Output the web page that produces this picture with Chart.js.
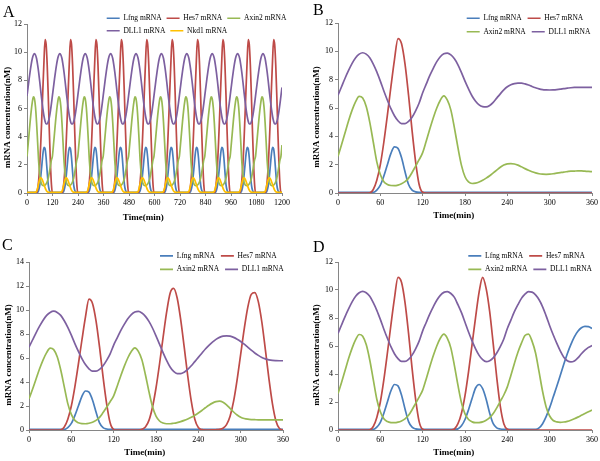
<!DOCTYPE html>
<html>
<head>
<meta charset="utf-8">
<script src="https://cdn.jsdelivr.net/npm/chart.js@4.4.1/dist/chart.umd.min.js"></script>
<style>
html,body{margin:0;padding:0;background:#fff;}
#fig{position:relative;width:600px;height:461px;overflow:hidden;background:#fff;}
.panel{position:absolute;}
.lbl{position:absolute;font-family:"Liberation Serif","Times New Roman",serif;font-size:16px;line-height:1;color:#000;}
</style>
</head>
<body>
<div id="fig">
  <div class="panel" style="left:0;top:0;"><canvas id="cA" width="300" height="230"></canvas></div>
  <div class="panel" style="left:300px;top:0;"><canvas id="cB" width="300" height="230"></canvas></div>
  <div class="panel" style="left:0;top:230px;"><canvas id="cC" width="300" height="231"></canvas></div>
  <div class="panel" style="left:300px;top:230px;"><canvas id="cD" width="300" height="231"></canvas></div>
  <div class="lbl" style="left:3px;top:3.5px;">A</div>
  <div class="lbl" style="left:313px;top:1.5px;">B</div>
  <div class="lbl" style="left:2px;top:236.5px;">C</div>
  <div class="lbl" style="left:313px;top:238.5px;">D</div>
</div>
<script>
// ---------------- DATA ----------------
const seriesLabels = ['Lfng mRNA', 'Hes7 mRNA', 'Axin2 mRNA', 'DLL1 mRNA', 'Nkd1 mRNA'];
const xTicksA = [0, 120, 240, 360, 480, 600, 720, 840, 960, 1080, 1200];
const xTicksBCD = [0, 60, 120, 180, 240, 300, 360];

// Panel A (time, min)
const timeA = [
0,5,10,15,20,25,30,35,40,45,50,55,60,65,70,75,80,85,90,95,100,105,110,115,
119.5,124.5,129.5,134.5,139.5,144.5,149.5,154.5,159.5,164.5,169.5,174.5,179.5,184.5,189.5,194.5,199.5,204.5,209.5,214.5,219.5,224.5,229.5,234.5,
239,244,249,254,259,264,269,274,279,284,289,294,299,304,309,314,319,324,329,334,339,344,349,354,
358.5,363.5,368.5,373.5,378.5,383.5,388.5,393.5,398.5,403.5,408.5,413.5,418.5,423.5,428.5,433.5,438.5,443.5,448.5,453.5,458.5,463.5,468.5,473.5,
478,483,488,493,498,503,508,513,518,523,528,533,538,543,548,553,558,563,568,573,578,583,588,593,
597.5,602.5,607.5,612.5,617.5,622.5,627.5,632.5,637.5,642.5,647.5,652.5,657.5,662.5,667.5,672.5,677.5,682.5,687.5,692.5,697.5,702.5,707.5,712.5,
717,722,727,732,737,742,747,752,757,762,767,772,777,782,787,792,797,802,807,812,817,822,827,832,
836.5,841.5,846.5,851.5,856.5,861.5,866.5,871.5,876.5,881.5,886.5,891.5,896.5,901.5,906.5,911.5,916.5,921.5,926.5,931.5,936.5,941.5,946.5,951.5,
956,961,966,971,976,981,986,991,996,1001,1006,1011,1016,1021,1026,1031,1036,1041,1046,1051,1056,1061,1066,1071,
1075.5,1080.5,1085.5,1090.5,1095.5,1100.5,1105.5,1110.5,1115.5,1120.5,1125.5,1130.5,1135.5,1140.5,1145.5,1150.5,1155.5,1160.5,1165.5,1170.5,1175.5,1180.5,1185.5,1190.5,
1195,1200];

const lfngA = [
0.05,0.05,0.05,0.05,0.05,0.05,0.05,0.05,0.05,0.05,0.05,0.2,0.55,1.2,2,2.8,3.25,3.15,2.5,1.5,0.6,0.2,0.08,0.05,
0.05,0.05,0.05,0.05,0.05,0.05,0.05,0.05,0.05,0.05,0.05,0.2,0.55,1.2,2,2.8,3.25,3.15,2.5,1.5,0.6,0.2,0.08,0.05,
0.05,0.05,0.05,0.05,0.05,0.05,0.05,0.05,0.05,0.05,0.05,0.2,0.55,1.2,2,2.8,3.25,3.15,2.5,1.5,0.6,0.2,0.08,0.05,
0.05,0.05,0.05,0.05,0.05,0.05,0.05,0.05,0.05,0.05,0.05,0.2,0.55,1.2,2,2.8,3.25,3.15,2.5,1.5,0.6,0.2,0.08,0.05,
0.05,0.05,0.05,0.05,0.05,0.05,0.05,0.05,0.05,0.05,0.05,0.2,0.55,1.2,2,2.8,3.25,3.15,2.5,1.5,0.6,0.2,0.08,0.05,
0.05,0.05,0.05,0.05,0.05,0.05,0.05,0.05,0.05,0.05,0.05,0.2,0.55,1.2,2,2.8,3.25,3.15,2.5,1.5,0.6,0.2,0.08,0.05,
0.05,0.05,0.05,0.05,0.05,0.05,0.05,0.05,0.05,0.05,0.05,0.2,0.55,1.2,2,2.8,3.25,3.15,2.5,1.5,0.6,0.2,0.08,0.05,
0.05,0.05,0.05,0.05,0.05,0.05,0.05,0.05,0.05,0.05,0.05,0.2,0.55,1.2,2,2.8,3.25,3.15,2.5,1.5,0.6,0.2,0.08,0.05,
0.05,0.05,0.05,0.05,0.05,0.05,0.05,0.05,0.05,0.05,0.05,0.2,0.55,1.2,2,2.8,3.25,3.15,2.5,1.5,0.6,0.2,0.08,0.05,
0.05,0.05,0.05,0.05,0.05,0.05,0.05,0.05,0.05,0.05,0.05,0.2,0.55,1.2,2,2.8,3.25,3.15,2.5,1.5,0.6,0.2,0.08,0.05,
0.05,0.05];

const hes7A = [
0,0,0,0,0,0,0,0,0,0.02,0.25,0.9,2,3.6,5.5,7.5,9.4,10.9,10.55,9.1,6.9,4.4,2.2,0.6,
0,0,0,0,0,0,0,0,0,0.02,0.25,0.9,2,3.6,5.5,7.5,9.4,10.9,10.55,9.1,6.9,4.4,2.2,0.6,
0,0,0,0,0,0,0,0,0,0.02,0.25,0.9,2,3.6,5.5,7.5,9.4,10.9,10.55,9.1,6.9,4.4,2.2,0.6,
0,0,0,0,0,0,0,0,0,0.02,0.25,0.9,2,3.6,5.5,7.5,9.4,10.9,10.55,9.1,6.9,4.4,2.2,0.6,
0,0,0,0,0,0,0,0,0,0.02,0.25,0.9,2,3.6,5.5,7.5,9.4,10.9,10.55,9.1,6.9,4.4,2.2,0.6,
0,0,0,0,0,0,0,0,0,0.02,0.25,0.9,2,3.6,5.5,7.5,9.4,10.9,10.55,9.1,6.9,4.4,2.2,0.6,
0,0,0,0,0,0,0,0,0,0.02,0.25,0.9,2,3.6,5.5,7.5,9.4,10.9,10.55,9.1,6.9,4.4,2.2,0.6,
0,0,0,0,0,0,0,0,0,0.02,0.25,0.9,2,3.6,5.5,7.5,9.4,10.9,10.55,9.1,6.9,4.4,2.2,0.6,
0,0,0,0,0,0,0,0,0,0.02,0.25,0.9,2,3.6,5.5,7.5,9.4,10.9,10.55,9.1,6.9,4.4,2.2,0.6,
0,0,0,0,0,0,0,0,0,0.02,0.25,0.9,2,3.6,5.5,7.5,9.4,10.9,10.55,9.1,6.9,4.4,2.2,0.6,
0,0];

const axin2A = [
2.6,3.4,4.25,5.1,5.85,6.45,6.82,6.7,6.1,5,3.6,2.2,1.3,0.8,0.6,0.53,0.52,0.56,0.65,0.8,1.05,1.45,1.9,2.35,
2.6,3.4,4.25,5.1,5.85,6.45,6.82,6.7,6.1,5,3.6,2.2,1.3,0.8,0.6,0.53,0.52,0.56,0.65,0.8,1.05,1.45,1.9,2.35,
2.6,3.4,4.25,5.1,5.85,6.45,6.82,6.7,6.1,5,3.6,2.2,1.3,0.8,0.6,0.53,0.52,0.56,0.65,0.8,1.05,1.45,1.9,2.35,
2.6,3.4,4.25,5.1,5.85,6.45,6.82,6.7,6.1,5,3.6,2.2,1.3,0.8,0.6,0.53,0.52,0.56,0.65,0.8,1.05,1.45,1.9,2.35,
2.6,3.4,4.25,5.1,5.85,6.45,6.82,6.7,6.1,5,3.6,2.2,1.3,0.8,0.6,0.53,0.52,0.56,0.65,0.8,1.05,1.45,1.9,2.35,
2.6,3.4,4.25,5.1,5.85,6.45,6.82,6.7,6.1,5,3.6,2.2,1.3,0.8,0.6,0.53,0.52,0.56,0.65,0.8,1.05,1.45,1.9,2.35,
2.6,3.4,4.25,5.1,5.85,6.45,6.82,6.7,6.1,5,3.6,2.2,1.3,0.8,0.6,0.53,0.52,0.56,0.65,0.8,1.05,1.45,1.9,2.35,
2.6,3.4,4.25,5.1,5.85,6.45,6.82,6.7,6.1,5,3.6,2.2,1.3,0.8,0.6,0.53,0.52,0.56,0.65,0.8,1.05,1.45,1.9,2.35,
2.6,3.4,4.25,5.1,5.85,6.45,6.82,6.7,6.1,5,3.6,2.2,1.3,0.8,0.6,0.53,0.52,0.56,0.65,0.8,1.05,1.45,1.9,2.35,
2.6,3.4,4.25,5.1,5.85,6.45,6.82,6.7,6.1,5,3.6,2.2,1.3,0.8,0.6,0.53,0.52,0.56,0.65,0.8,1.05,1.45,1.9,2.35,
2.6,3.4];

const dll1A = [
6.9,7.5,8.1,8.65,9.15,9.55,9.8,9.9,9.8,9.55,9.1,8.55,7.9,7.2,6.55,5.95,5.45,5.1,4.9,4.9,5.05,5.35,5.8,6.35,
6.9,7.5,8.1,8.65,9.15,9.55,9.8,9.9,9.8,9.55,9.1,8.55,7.9,7.2,6.55,5.95,5.45,5.1,4.9,4.9,5.05,5.35,5.8,6.35,
6.9,7.5,8.1,8.65,9.15,9.55,9.8,9.9,9.8,9.55,9.1,8.55,7.9,7.2,6.55,5.95,5.45,5.1,4.9,4.9,5.05,5.35,5.8,6.35,
6.9,7.5,8.1,8.65,9.15,9.55,9.8,9.9,9.8,9.55,9.1,8.55,7.9,7.2,6.55,5.95,5.45,5.1,4.9,4.9,5.05,5.35,5.8,6.35,
6.9,7.5,8.1,8.65,9.15,9.55,9.8,9.9,9.8,9.55,9.1,8.55,7.9,7.2,6.55,5.95,5.45,5.1,4.9,4.9,5.05,5.35,5.8,6.35,
6.9,7.5,8.1,8.65,9.15,9.55,9.8,9.9,9.8,9.55,9.1,8.55,7.9,7.2,6.55,5.95,5.45,5.1,4.9,4.9,5.05,5.35,5.8,6.35,
6.9,7.5,8.1,8.65,9.15,9.55,9.8,9.9,9.8,9.55,9.1,8.55,7.9,7.2,6.55,5.95,5.45,5.1,4.9,4.9,5.05,5.35,5.8,6.35,
6.9,7.5,8.1,8.65,9.15,9.55,9.8,9.9,9.8,9.55,9.1,8.55,7.9,7.2,6.55,5.95,5.45,5.1,4.9,4.9,5.05,5.35,5.8,6.35,
6.9,7.5,8.1,8.65,9.15,9.55,9.8,9.9,9.8,9.55,9.1,8.55,7.9,7.2,6.55,5.95,5.45,5.1,4.9,4.9,5.05,5.35,5.8,6.35,
6.9,7.5,8.1,8.65,9.15,9.55,9.8,9.9,9.8,9.55,9.1,8.55,7.9,7.2,6.55,5.95,5.45,5.1,4.9,4.9,5.05,5.35,5.8,6.35,
6.9,7.5];

const nkd1A = [
0.05,0.05,0.05,0.05,0.05,0.05,0.05,0.05,0.06,0.12,0.35,0.7,0.98,1.07,1,0.82,0.6,0.38,0.2,0.1,0.06,0.05,0.05,0.05,
0.05,0.05,0.05,0.05,0.05,0.05,0.05,0.05,0.06,0.12,0.35,0.7,0.98,1.07,1,0.82,0.6,0.38,0.2,0.1,0.06,0.05,0.05,0.05,
0.05,0.05,0.05,0.05,0.05,0.05,0.05,0.05,0.06,0.12,0.35,0.7,0.98,1.07,1,0.82,0.6,0.38,0.2,0.1,0.06,0.05,0.05,0.05,
0.05,0.05,0.05,0.05,0.05,0.05,0.05,0.05,0.06,0.12,0.35,0.7,0.98,1.07,1,0.82,0.6,0.38,0.2,0.1,0.06,0.05,0.05,0.05,
0.05,0.05,0.05,0.05,0.05,0.05,0.05,0.05,0.06,0.12,0.35,0.7,0.98,1.07,1,0.82,0.6,0.38,0.2,0.1,0.06,0.05,0.05,0.05,
0.05,0.05,0.05,0.05,0.05,0.05,0.05,0.05,0.06,0.12,0.35,0.7,0.98,1.07,1,0.82,0.6,0.38,0.2,0.1,0.06,0.05,0.05,0.05,
0.05,0.05,0.05,0.05,0.05,0.05,0.05,0.05,0.06,0.12,0.35,0.7,0.98,1.07,1,0.82,0.6,0.38,0.2,0.1,0.06,0.05,0.05,0.05,
0.05,0.05,0.05,0.05,0.05,0.05,0.05,0.05,0.06,0.12,0.35,0.7,0.98,1.07,1,0.82,0.6,0.38,0.2,0.1,0.06,0.05,0.05,0.05,
0.05,0.05,0.05,0.05,0.05,0.05,0.05,0.05,0.06,0.12,0.35,0.7,0.98,1.07,1,0.82,0.6,0.38,0.2,0.1,0.06,0.05,0.05,0.05,
0.05,0.05,0.05,0.05,0.05,0.05,0.05,0.05,0.06,0.12,0.35,0.7,0.98,1.07,1,0.82,0.6,0.38,0.2,0.1,0.06,0.05,0.05,0.05,
0.05,0.05];

// Panels B, C, D (time, min)
const timeBCD = [0,5,10,15,20,25,30,35,40,45,50,55,60,65,70,75,80,85,90,95,100,105,110,115,
120,125,130,135,140,145,150,155,160,165,170,175,180,185,190,195,200,205,210,215,
220,225,230,235,240,245,250,255,260,265,270,275,280,285,290,295,300,305,310,315,
320,325,330,335,340,345,350,355,360];

// Panel B
const lfngB = [0.05,0.05,0.05,0.05,0.05,0.05,0.05,0.05,0.05,0.05,0.05,0.2,0.55,1.2,2,2.8,3.25,3.15,2.5,1.5,0.6,0.2,0.08,0.05,
0.05,0.05,0.05,0.05,0.05,0.05,0.05,0.05,0.05,0.05,0.05,0.05,0.05,0.05,0.05,0.05,0.05,0.05,0.05,0.05,0.05,0.05,0.05,0.05,0.05,
0.05,0.05,0.05,0.05,0.05,0.05,0.05,0.05,0.05,0.05,0.05,0.05,0.05,0.05,0.05,0.05,0.05,0.05,0.05,0.05,0.05,0.05,0.05,0.05];
const hes7B = [0,0,0,0,0,0,0,0,0,0.02,0.25,0.9,2,3.6,5.5,7.5,9.4,10.9,10.55,9.1,6.9,4.4,2.2,0.6,
0.05,0,0,0,0,0,0,0,0,0,0,0,0,0,0,0,0,0,0,0,0,0,0,0,0,
0,0,0,0,0,0,0,0,0,0,0,0,0,0,0,0,0,0,0,0,0,0,0,0];
const axin2B = [2.6,3.4,4.25,5.1,5.85,6.45,6.82,6.7,6.1,5,3.6,2.2,1.3,0.8,0.6,0.53,0.52,0.56,0.65,0.8,1.05,1.45,1.9,2.35,
2.85,3.65,4.5,5.3,6,6.55,6.85,6.55,5.85,4.6,3.2,1.95,1.15,0.78,0.67,0.7,0.78,0.9,1.05,1.22,
1.42,1.62,1.82,1.97,2.06,2.08,2.05,1.97,1.85,1.72,1.6,1.5,1.42,1.36,1.33,1.32,1.33,1.36,1.4,1.44,
1.48,1.51,1.54,1.55,1.56,1.56,1.54,1.52,1.51];
const dll1B = [6.9,7.5,8.1,8.65,9.15,9.55,9.8,9.9,9.8,9.55,9.1,8.55,7.9,7.2,6.55,5.95,5.45,5.1,4.9,4.9,5.05,5.35,5.8,6.35,
7.08,7.68,8.28,8.8,9.27,9.62,9.83,9.88,9.75,9.47,9.05,8.5,7.9,7.35,6.85,6.48,6.22,6.1,6.08,6.18,
6.4,6.7,7,7.28,7.5,7.64,7.72,7.75,7.75,7.7,7.62,7.52,7.43,7.35,7.3,7.28,7.27,7.28,7.3,7.33,
7.37,7.4,7.43,7.45,7.46,7.46,7.46,7.46,7.46];

// Panel C
const lfngC = [0.05,0.05,0.05,0.05,0.05,0.05,0.05,0.05,0.05,0.05,0.05,0.2,0.55,1.2,2,2.8,3.25,3.15,2.5,1.5,0.6,0.2,0.08,0.05,
0.05,0.05,0.05,0.05,0.05,0.05,0.05,0.05,0.05,0.05,0.05,0.05,0.05,0.05,0.05,0.05,0.05,0.05,0.05,0.05,0.05,0.05,0.05,0.05,0.05,
0.05,0.05,0.05,0.05,0.05,0.05,0.05,0.05,0.05,0.05,0.05,0.05,0.05,0.05,0.05,0.05,0.05,0.05,0.05,0.05,0.05,0.05,0.05,0.05];
const hes7C = [0,0,0,0,0,0,0,0,0,0.02,0.25,0.9,2,3.6,5.5,7.5,9.4,10.9,10.55,9.1,6.9,4.4,2.2,0.6,
0.05,0,0,0,0,0,0,0,0.05,0.25,0.8,1.9,3.5,5.5,7.7,9.8,11.4,11.8,11,9.2,
6.9,4.5,2.4,0.9,0.2,0.03,0,0,0.01,0.02,0.05,0.15,0.45,1.15,2.4,4.2,6.3,8.4,10.2,11.3,
11.45,10.7,9,6.7,4.3,2.2,0.75,0.12,0];
const axin2C = [2.6,3.4,4.25,5.1,5.85,6.45,6.82,6.7,6.1,5,3.6,2.2,1.3,0.8,0.6,0.53,0.52,0.56,0.65,0.8,1.05,1.45,1.9,2.35,
2.85,3.65,4.5,5.3,6,6.55,6.85,6.55,5.85,4.6,3.2,1.95,1.15,0.75,0.58,0.52,0.52,0.56,0.62,0.7,
0.8,0.92,1.06,1.23,1.42,1.63,1.85,2.06,2.24,2.36,2.4,2.32,2.1,1.8,1.5,1.25,1.07,0.96,0.9,0.87,
0.86,0.85,0.85,0.85,0.85,0.85,0.85,0.85,0.85];
const dll1C = [6.9,7.5,8.1,8.65,9.15,9.55,9.8,9.9,9.8,9.55,9.1,8.55,7.9,7.2,6.55,5.95,5.45,5.1,4.9,4.9,5.05,5.35,5.8,6.35,
7.08,7.68,8.28,8.8,9.27,9.62,9.83,9.88,9.75,9.47,9.05,8.5,7.85,7.15,6.45,5.8,5.25,4.88,4.7,4.7,
4.82,5.05,5.35,5.7,6.05,6.4,6.75,7.05,7.32,7.55,7.72,7.82,7.85,7.82,7.72,7.57,7.38,7.15,6.9,6.65,
6.42,6.22,6.05,5.93,5.85,5.8,5.78,5.77,5.77];

// Panel D
const lfngD = [0.05,0.05,0.05,0.05,0.05,0.05,0.05,0.05,0.05,0.05,0.05,0.2,0.55,1.2,2,2.8,3.25,3.15,2.5,1.5,0.6,0.2,0.08,0.05,
0.05,0.05,0.05,0.05,0.05,0.05,0.05,0.05,0.05,0.05,0.08,0.3,0.75,1.45,2.25,3,3.25,2.95,2.2,1.2,
0.45,0.15,0.07,0.05,0.05,0.05,0.05,0.05,0.05,0.05,0.05,0.05,0.05,0.15,0.45,0.95,1.6,2.35,3.1,3.9,
4.7,5.45,6.1,6.65,7.05,7.3,7.4,7.38,7.25];
const hes7D = [0,0,0,0,0,0,0,0,0,0.02,0.25,0.9,2,3.6,5.5,7.5,9.4,10.9,10.55,9.1,6.9,4.4,2.2,0.6,
0.05,0,0,0,0,0,0,0,0,0.07,0.45,1.2,2.45,4.15,6.1,8.05,9.85,10.9,10.1,8.45,
6.15,3.75,1.7,0.45,0.05,0,0,0,0,0,0,0,0,0,0,0,0,0,0,0,
0,0,0,0,0,0,0,0,0];
const axin2D = [2.6,3.4,4.25,5.1,5.85,6.45,6.82,6.7,6.1,5,3.6,2.2,1.3,0.8,0.6,0.53,0.52,0.56,0.65,0.8,1.05,1.45,1.9,2.35,
2.85,3.65,4.5,5.3,6,6.55,6.85,6.55,5.85,4.6,3.2,1.95,1.15,0.75,0.58,0.52,0.53,0.58,0.7,0.88,
1.17,1.58,2.05,2.5,3.08,3.9,4.75,5.55,6.2,6.75,6.85,6.35,5.5,4.15,2.75,1.65,1,0.68,0.58,0.55,
0.57,0.62,0.7,0.8,0.92,1.05,1.18,1.3,1.42];
const dll1D = [6.9,7.5,8.1,8.65,9.15,9.55,9.8,9.9,9.8,9.55,9.1,8.55,7.9,7.2,6.55,5.95,5.45,5.1,4.9,4.9,5.05,5.35,5.8,6.35,
7.08,7.68,8.28,8.8,9.27,9.62,9.83,9.88,9.75,9.47,8.95,8.38,7.7,7,6.37,5.8,5.33,5.02,4.88,4.95,
5.15,5.5,5.95,6.5,7.25,7.85,8.45,8.95,9.4,9.7,9.88,9.85,9.65,9.3,8.8,8.15,7.45,6.8,6.2,5.65,
5.2,4.95,4.86,4.93,5.15,5.45,5.7,5.9,6.03];

// ---------------- STYLE ----------------
const SERIF = "'Liberation Serif', 'Times New Roman', serif";
const seriesColors = ['#4A7EBB', '#BE4B48', '#98B954', '#7D60A0', '#FFC000'];
const AXIS_COLOR = '#868686';
const X_TITLE = 'Time(min)\u2002\u2002\u2002\u2002\u2002';
const Y_TITLE = 'mRNA concentration(nM)\u2002\u2002\u2002\u2002';

// moves Chart.js's own legend to a fixed place (so it may overlap the plot top, like the original)
const legendPlace = {
  id: 'legendPlace',
  afterInit(chart) {
    const lg = chart.legend;
    if (!lg || lg._fitPatched) return;
    const fit0 = lg.fit;
    lg.fit = function () { fit0.call(this); this.height = 0; };
    lg._fitPatched = true;
  },
  afterLayout(chart, args, o) {
    const lg = chart.legend;
    if (!lg) return;
    lg.left = o.x; lg.right = o.x + o.w; lg.width = o.w;
    lg.top = o.y; lg.bottom = o.y + 45; lg.height = 45;
  }
};

function buildChart(canvasId, times, valueLists, cfg) {
  const datasets = valueLists.map((vals, i) => ({
    label: seriesLabels[i],
    data: times.map((t, k) => ({ x: t, y: vals[k] })),
    borderColor: seriesColors[i],
    backgroundColor: seriesColors[i],
    borderWidth: 1.7,
    pointRadius: 0,
    pointHoverRadius: 0,
    fill: false,
    cubicInterpolationMode: 'monotone',
    order: valueLists.length - i
  }));
  const tickFont = { family: SERIF, size: 8 };
  const titleFont = { family: SERIF, size: 9, weight: 'bold' };
  return new Chart(document.getElementById(canvasId), {
    type: 'line',
    data: { datasets },
    options: {
      responsive: false,
      animation: false,
      events: [],
      layout: { padding: cfg.pad },
      scales: {
        x: {
          type: 'linear', min: 0, max: cfg.xTicks[cfg.xTicks.length - 1],
          afterBuildTicks: (s) => { s.ticks = cfg.xTicks.map(v => ({ value: v })); },
          ticks: { font: tickFont, color: '#000', padding: 2, maxRotation: 0, autoSkip: false,
                   callback: (v) => String(v) },
          grid: { drawOnChartArea: false, drawTicks: true, tickLength: 3, color: AXIS_COLOR },
          border: { display: true, color: AXIS_COLOR, width: 1 },
          title: { display: true, text: X_TITLE, font: titleFont, color: '#000', padding: { top: 0, bottom: 0 } },
          afterFit: (s) => { s.height = cfg.xH; }
        },
        y: {
          type: 'linear', min: 0, max: cfg.yMax,
          ticks: { stepSize: 2, font: tickFont, color: '#000', padding: 2, callback: (v) => String(v) },
          grid: { drawOnChartArea: false, drawTicks: true, tickLength: 3, color: AXIS_COLOR },
          border: { display: true, color: AXIS_COLOR, width: 1 },
          title: { display: true, text: Y_TITLE, font: titleFont, color: '#000', padding: { top: cfg.yTitlePad, bottom: 0 } },
          afterFit: (s) => { s.width = cfg.yW; }
        }
      },
      plugins: {
        legend: {
          display: true, position: 'top', align: 'start',
          labels: {
            usePointStyle: true, pointStyle: 'line', pointStyleWidth: 13,
            padding: cfg.legend.pad, color: '#000',
            font: { family: SERIF, size: 7.5 },
            sort: (a, b) => a.datasetIndex - b.datasetIndex
          }
        },
        tooltip: { enabled: false },
        legendPlace: cfg.legend
      }
    },
    plugins: [legendPlace]
  });
}

buildChart('cA', timeA, [lfngA, hes7A, axin2A, dll1A, nkd1A], {
  pad: { left: 0, top: 24, right: 18, bottom: 7 }, yW: 27, xH: 30, yTitlePad: 2,
  xTicks: xTicksA, yMax: 12,
  legend: { x: 101.7, y: 9.5, w: 218, pad: 5 }
});
buildChart('cB', timeBCD, [lfngB, hes7B, axin2B, dll1B], {
  pad: { left: 10, top: 23, right: 8, bottom: 8.6 }, yW: 28, xH: 28.4, yTitlePad: 1.6,
  xTicks: xTicksBCD, yMax: 12,
  legend: { x: 160.7, y: 8.5, w: 160, pad: 6 }
});
buildChart('cC', timeBCD, [lfngC, hes7C, axin2C, dll1C], {
  pad: { left: 0, top: 32, right: 17, bottom: 3 }, yW: 29, xH: 28, yTitlePad: 3.3,
  xTicks: xTicksBCD, yMax: 14,
  legend: { x: 154, y: 16.2, w: 166, pad: 6 }
});
buildChart('cD', timeBCD, [lfngD, hes7D, axin2D, dll1D], {
  pad: { left: 10, top: 32, right: 8, bottom: 3 }, yW: 28, xH: 28, yTitlePad: 1.6,
  xTicks: xTicksBCD, yMax: 12,
  legend: { x: 162.3, y: 16.2, w: 158, pad: 6 }
});
</script>
</body>
</html>
